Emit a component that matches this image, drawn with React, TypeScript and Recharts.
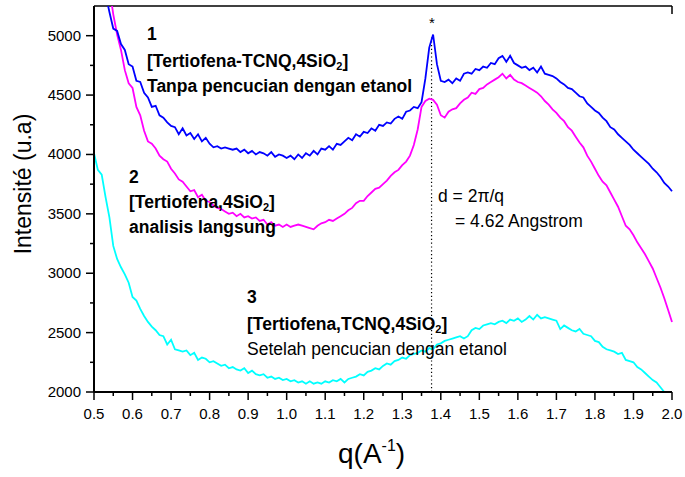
import React from 'react'
import { LineChart, Line, XAxis, YAxis, ReferenceLine } from 'recharts'

// q (A^-1) sampling grid
const qValues = [
  0.5, 0.51, 0.52, 0.53, 0.54, 0.55, 0.56, 0.57, 0.58, 0.59,
  0.6, 0.61, 0.62, 0.63, 0.64, 0.65, 0.66, 0.67, 0.68, 0.69,
  0.7, 0.71, 0.72, 0.73, 0.74, 0.75, 0.76, 0.77, 0.78, 0.79,
  0.8, 0.81, 0.82, 0.83, 0.84, 0.85, 0.86, 0.87, 0.88, 0.89,
  0.9, 0.91, 0.92, 0.93, 0.94, 0.95, 0.96, 0.97, 0.98, 0.99,
  1.0, 1.01, 1.02, 1.03, 1.04, 1.05, 1.06, 1.07, 1.08, 1.09,
  1.1, 1.11, 1.12, 1.13, 1.14, 1.15, 1.16, 1.17, 1.18, 1.19,
  1.2, 1.21, 1.22, 1.23, 1.24, 1.25, 1.26, 1.27, 1.28, 1.29,
  1.3, 1.31, 1.32, 1.33, 1.34, 1.35, 1.36, 1.37, 1.38, 1.39,
  1.4, 1.41, 1.42, 1.43, 1.44, 1.45, 1.46, 1.47, 1.48, 1.49,
  1.5, 1.51, 1.52, 1.53, 1.54, 1.55, 1.56, 1.57, 1.58, 1.59,
  1.6, 1.61, 1.62, 1.63, 1.64, 1.65, 1.66, 1.67, 1.68, 1.69,
  1.7, 1.71, 1.72, 1.73, 1.74, 1.75, 1.76, 1.77, 1.78, 1.79,
  1.8, 1.81, 1.82, 1.83, 1.84, 1.85, 1.86, 1.87, 1.88, 1.89,
  1.9, 1.91, 1.92, 1.93, 1.94, 1.95, 1.96, 1.97, 1.98, 1.99,
  2.0,
]

// 1: [Tertiofena-TCNQ,4SiO2] tanpa pencucian
const sample1 = [
  5900, 5700, 5520, 5350, 5200, 5060, 5040, 4930, 4880, 4760,
  4740, 4620, 4610, 4520, 4480, 4400, 4410, 4330, 4310, 4270,
  4240, 4230, 4170, 4220, 4160, 4180, 4130, 4170, 4110, 4140,
  4090, 4060, 4070, 4050, 4060, 4050, 4040, 4050, 4020, 4040,
  4010, 4030, 4000, 4020, 4010, 3990, 4020, 3980, 4000, 3990,
  3970, 3990, 3960, 4000, 3970, 4010, 3990, 4030, 4000, 4050,
  4040, 4070, 4040, 4090, 4080, 4110, 4140, 4120, 4170, 4150,
  4190, 4180, 4220, 4200, 4250, 4240, 4270, 4260, 4300, 4320,
  4300, 4360, 4370, 4400, 4390, 4440, 4640, 4900, 5010, 4760,
  4620, 4610, 4630, 4600, 4640, 4620, 4680, 4690, 4680, 4720,
  4710, 4740, 4730, 4770, 4760, 4810, 4830, 4780, 4830, 4770,
  4750, 4730, 4740, 4710, 4730, 4690, 4740, 4680, 4670, 4660,
  4640, 4610, 4590, 4560, 4550, 4520, 4490, 4480, 4430, 4400,
  4370, 4350, 4310, 4280, 4230, 4210, 4170, 4140, 4110, 4080,
  4040, 4010, 3980, 3950, 3920, 3880, 3850, 3810, 3760, 3730,
  3690,
]

// 2: [Tertiofena,4SiO2] analisis langsung
const sample2 = [
  6500, 6200, 5920, 5650, 5400, 5180, 5010, 4880, 4710, 4600,
  4560, 4400, 4330, 4200, 4110, 4090, 4050, 3990, 3960, 3940,
  3880, 3840, 3790, 3770, 3730, 3690, 3700, 3640, 3660, 3610,
  3600, 3570, 3550, 3540, 3520, 3500, 3510, 3480, 3500, 3470,
  3480, 3460, 3470, 3440, 3450, 3410, 3430, 3400, 3410, 3390,
  3410, 3390, 3400, 3410, 3400, 3390, 3380, 3370, 3400, 3420,
  3430, 3450, 3440, 3460, 3480, 3500, 3530, 3550, 3590, 3610,
  3610, 3650, 3680, 3710, 3720, 3750, 3780, 3820, 3850, 3870,
  3910, 3940, 3990, 4080, 4210, 4400, 4450, 4470, 4460, 4420,
  4330, 4310, 4360, 4380, 4390, 4430, 4460, 4480, 4520, 4510,
  4550, 4560, 4590, 4610, 4630, 4650, 4680, 4640, 4670, 4630,
  4610, 4600, 4580, 4560, 4540, 4520, 4490, 4450, 4420, 4380,
  4350, 4310, 4280, 4230, 4200, 4150, 4100, 4060, 3990, 3940,
  3880, 3820, 3770, 3740, 3680, 3620, 3560, 3480, 3400, 3370,
  3320, 3260, 3210, 3160, 3100, 3040, 2960, 2880, 2790, 2690,
  2590,
]

// 3: [Tertiofena,TCNQ,4SiO2] setelah pencucian
const sample3 = [
  4010, 3870, 3830, 3640, 3470, 3230, 3120, 3050, 2990, 2920,
  2800, 2770, 2700, 2640, 2590, 2550, 2520, 2480, 2470, 2400,
  2440, 2360, 2350, 2340, 2350, 2310, 2330, 2270, 2290, 2280,
  2250, 2260, 2240, 2220, 2230, 2200, 2210, 2190, 2180, 2200,
  2160, 2180, 2150, 2140, 2150, 2120, 2130, 2110, 2120, 2100,
  2110, 2090, 2100, 2080, 2090, 2070, 2090, 2070, 2080, 2070,
  2090, 2080, 2100, 2090, 2110, 2080, 2110, 2120, 2130, 2150,
  2140, 2170, 2180, 2200, 2190, 2220, 2240, 2230, 2260, 2270,
  2290, 2280, 2310, 2320, 2330, 2350, 2340, 2370, 2360, 2400,
  2410, 2430, 2440, 2450, 2460, 2470, 2450, 2470, 2520, 2540,
  2530, 2560, 2570, 2580, 2570, 2590, 2600, 2580, 2610, 2600,
  2620, 2590, 2610, 2640, 2610, 2650, 2620, 2630, 2620, 2610,
  2600, 2530, 2560, 2540, 2520, 2510, 2530, 2490, 2480, 2470,
  2430, 2420, 2380, 2360, 2350, 2340, 2320, 2330, 2270, 2260,
  2250, 2210, 2190, 2160, 2130, 2100, 2080, 2040, 2000, null,
  null,
]

const xTicks = [
  0.5, 0.55, 0.6, 0.65, 0.7, 0.75, 0.8, 0.85, 0.9, 0.95, 1.0, 1.05, 1.1, 1.15,
  1.2, 1.25, 1.3, 1.35, 1.4, 1.45, 1.5, 1.55, 1.6, 1.65, 1.7, 1.75, 1.8, 1.85,
  1.9, 1.95, 2.0,
]
const yTicks = [2000, 2250, 2500, 2750, 3000, 3250, 3500, 3750, 4000, 4250, 4500, 4750, 5000]

const Y_MAX = 5250
const peakQ = 1.376
const peakTop = 5000

const data = qValues.map((q, i) => ({ q, s1: sample1[i], s2: sample2[i], s3: sample3[i] }))

const FONT = "'Liberation Sans', Arial, sans-serif"

const XTick = (props: any) => {
  const { x, y, payload } = props
  const v = payload.value as number
  const major = Math.abs(v * 10 - Math.round(v * 10)) < 1e-6
  return (
    <g>
      <line x1={x} x2={x} y1={y} y2={y + (major ? 8 : 4)} stroke="#000" strokeWidth={1.5} />
      {major && (
        <text x={x} y={y + 27} textAnchor="middle" fontSize={15} fontFamily={FONT} fill="#000">
          {v.toFixed(1)}
        </text>
      )}
    </g>
  )
}

const YTick = (props: any) => {
  const { x, y, payload } = props
  const v = payload.value as number
  const major = v % 500 === 0
  return (
    <g>
      <line x1={x} x2={x - (major ? 8 : 4)} y1={y} y2={y} stroke="#000" strokeWidth={1.5} />
      {major && (
        <text x={x - 13} y={y + 5} textAnchor="end" fontSize={15} fontFamily={FONT} fill="#000">
          {v}
        </text>
      )}
    </g>
  )
}

const Sub2 = () => (
  <>
    <tspan dy={3} fontSize={11}>2</tspan>
    <tspan dy={-3}>]</tspan>
  </>
)

export default function App() {
  return (
    <div style={{ position: 'absolute', left: 0, top: 0, width: 685, height: 477, background: '#fff' }}>
      <LineChart
        width={685}
        height={477}
        data={data}
        margin={{ top: 6, right: 13, left: 34, bottom: 55 }}
      >
        <XAxis
          dataKey="q"
          type="number"
          domain={[0.5, 2.0]}
          ticks={xTicks}
          interval={0}
          height={30}
          tickSize={0}
          tickMargin={0}
          tickLine={false}
          tick={<XTick />}
          axisLine={{ stroke: '#000', strokeWidth: 2 }}
        />
        <YAxis
          type="number"
          domain={[2000, Y_MAX]}
          allowDataOverflow
          ticks={yTicks}
          interval={0}
          width={60}
          tickSize={0}
          tickMargin={0}
          tickLine={false}
          tick={<YTick />}
          axisLine={{ stroke: '#000', strokeWidth: 2 }}
        />
        {/* top frame line with corner tick */}
        <ReferenceLine y={Y_MAX} stroke="#000" strokeWidth={1.5} ifOverflow="visible" />
        <ReferenceLine
          segment={[{ x: 2.0, y: Y_MAX }, { x: 2.0, y: 5183 }]}
          stroke="#000"
          strokeWidth={1.5}
          ifOverflow="visible"
        />
        <ReferenceLine
          segment={[{ x: peakQ, y: 2000 }, { x: peakQ, y: peakTop }]}
          stroke="#000"
          strokeWidth={1.2}
          strokeDasharray="1.2 2.6"
        />
        <Line dataKey="s3" type="linear" stroke="#00ffff" strokeWidth={1.8} dot={false} isAnimationActive={false} />
        <Line dataKey="s2" type="linear" stroke="#ff00ff" strokeWidth={1.8} dot={false} isAnimationActive={false} />
        <Line dataKey="s1" type="linear" stroke="#0000ff" strokeWidth={1.8} dot={false} isAnimationActive={false} />
      </LineChart>

      <svg
        width={685}
        height={477}
        style={{ position: 'absolute', left: 0, top: 0, pointerEvents: 'none' }}
        fontFamily={FONT}
        fill="#000"
      >
        {/* axis titles */}
        <text x={31} y={184} transform="rotate(-90 31 184)" textAnchor="middle" fontSize={23}>
          Intensité (u.a)
        </text>
        <text x={338} y={463} fontSize={28}>
          q(A<tspan dy={-12} fontSize={16}>-1</tspan>
          <tspan dy={12}>)</tspan>
        </text>

        {/* peak marker */}
        <text x={432} y={28} textAnchor="middle" fontSize={15}>*</text>

        {/* sample 1 */}
        <g fontSize={17.5} fontWeight="bold">
          <text x={147} y={40}>1</text>
          <text x={147} y={67}>[Tertiofena-TCNQ,4SiO<Sub2 /></text>
          <text x={147} y={92}>Tanpa pencucian dengan etanol</text>
        </g>

        {/* sample 2 */}
        <g fontSize={17.5} fontWeight="bold">
          <text x={129} y={183}>2</text>
          <text x={129} y={208}>[Tertiofena,4SiO<Sub2 /></text>
          <text x={129} y={233}>analisis langsung</text>
        </g>

        {/* sample 3 */}
        <g fontSize={17.5}>
          <text x={247} y={303} fontWeight="bold">3</text>
          <text x={247} y={330} fontWeight="bold">[Tertiofena,TCNQ,4SiO<Sub2 /></text>
          <text x={247} y={355}>Setelah pencucian dengan etanol</text>
        </g>

        {/* d-spacing */}
        <g fontSize={17.5}>
          <text x={438} y={202}>d = 2π/q</text>
          <text x={455} y={227}>= 4.62 Angstrom</text>
        </g>
      </svg>
    </div>
  )
}
